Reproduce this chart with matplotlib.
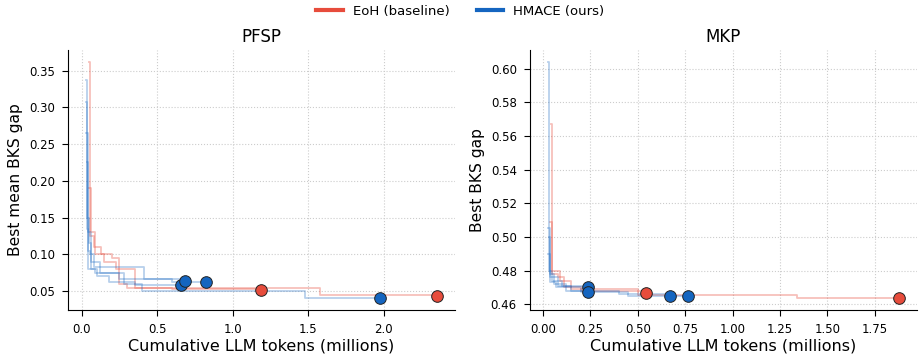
import matplotlib
matplotlib.use("Agg")
import matplotlib.pyplot as plt
from matplotlib.lines import Line2D

# colours
RED = "#e74c3c"
BLUE = "#1565c0"

# PFSP runs: cumulative tokens (millions) vs best mean BKS gap
pfsp_hmace_x = [
    [0.030, 0.036, 0.045, 0.060, 0.100, 0.180, 0.350, 0.656],
    [0.025, 0.032, 0.040, 0.090, 0.250, 0.684],
    [0.030, 0.038, 0.055, 0.080, 0.410, 0.600, 0.821],
    [0.032, 0.040, 0.060, 0.120, 0.280, 0.400, 1.480, 1.980],
]
pfsp_hmace_y = [
    [0.337, 0.150, 0.115, 0.080, 0.070, 0.062, 0.058, 0.058],
    [0.308, 0.135, 0.080, 0.075, 0.066, 0.064],
    [0.265, 0.105, 0.100, 0.083, 0.066, 0.063, 0.063],
    [0.226, 0.130, 0.090, 0.075, 0.060, 0.050, 0.041, 0.0405],
]
pfsp_eoh_x = [
    [0.045, 0.055, 0.080, 0.130, 0.200, 0.250, 0.300, 0.600, 1.185],
    [0.050, 0.060, 0.090, 0.150, 0.230, 0.350, 1.580, 2.356],
]
pfsp_eoh_y = [
    [0.362, 0.125, 0.110, 0.100, 0.095, 0.060, 0.055, 0.053, 0.052],
    [0.190, 0.130, 0.100, 0.090, 0.080, 0.055, 0.045, 0.0436],
]

# MKP runs: cumulative tokens (millions) vs best BKS gap
mkp_hmace_x = [
    [0.025, 0.030, 0.050, 0.100, 0.240],
    [0.028, 0.035, 0.060, 0.120, 0.240],
    [0.030, 0.040, 0.080, 0.150, 0.400, 0.669],
    [0.025, 0.035, 0.070, 0.200, 0.450, 0.766],
]
mkp_hmace_y = [
    [0.604, 0.480, 0.474, 0.471, 0.470],
    [0.505, 0.478, 0.472, 0.468, 0.467],
    [0.500, 0.476, 0.471, 0.468, 0.466, 0.4648],
    [0.490, 0.473, 0.470, 0.467, 0.465, 0.4646],
]
mkp_eoh_x = [
    [0.045, 0.050, 0.080, 0.110, 0.200, 0.543],
    [0.040, 0.050, 0.090, 0.150, 0.500, 1.339, 1.879],
]
mkp_eoh_y = [
    [0.567, 0.478, 0.476, 0.470, 0.468, 0.4667],
    [0.509, 0.480, 0.474, 0.469, 0.4655, 0.4638, 0.4636],
]


def draw_runs(ax, xs, ys, color, alpha):
    for x, y in zip(xs, ys):
        ax.plot(x, y, drawstyle="steps-post", color=color, alpha=alpha, lw=1.3, zorder=2)
    ax.scatter([x[-1] for x in xs], [y[-1] for y in ys], s=70, color=color,
               edgecolor="#222222", linewidth=0.7, zorder=4)


fig = plt.figure(figsize=(9.21, 3.54), dpi=100)
ax1 = fig.add_axes([0.0738, 0.1243, 0.420, 0.7345])
ax2 = fig.add_axes([0.5755, 0.1243, 0.420, 0.7345])

panels = [
    (ax1, "PFSP", "Best mean BKS gap", pfsp_eoh_x, pfsp_eoh_y, pfsp_hmace_x, pfsp_hmace_y),
    (ax2, "MKP", "Best BKS gap", mkp_eoh_x, mkp_eoh_y, mkp_hmace_x, mkp_hmace_y),
]
for ax, title, ylabel, ex, ey, hx, hy in panels:
    draw_runs(ax, ex, ey, RED, 0.35)
    draw_runs(ax, hx, hy, BLUE, 0.3)
    ax.set_title(title, fontsize=12)
    ax.set_xlabel("Cumulative LLM tokens (millions)", fontsize=11.5, labelpad=2)
    ax.set_ylabel(ylabel, fontsize=11.2, labelpad=4)
    ax.tick_params(labelsize=8.5, length=4.5, pad=5)
    ax.grid(True, linestyle=":", color="#cccccc", lw=0.8)
    ax.set_axisbelow(True)
    ax.spines["top"].set_visible(False)
    ax.spines["right"].set_visible(False)

ax1.yaxis.set_major_formatter(matplotlib.ticker.FormatStrFormatter("%.2f"))
ax2.yaxis.set_major_formatter(matplotlib.ticker.FormatStrFormatter("%.2f"))

handles = [Line2D([0], [0], color=RED, lw=3), Line2D([0], [0], color=BLUE, lw=3)]
fig.legend(handles, ["EoH (baseline)", "HMACE (ours)"], loc="upper center",
           bbox_to_anchor=(0.5, 1.02), ncol=2, frameon=False, fontsize=9.5)

fig.savefig("out.png", dpi=100)
